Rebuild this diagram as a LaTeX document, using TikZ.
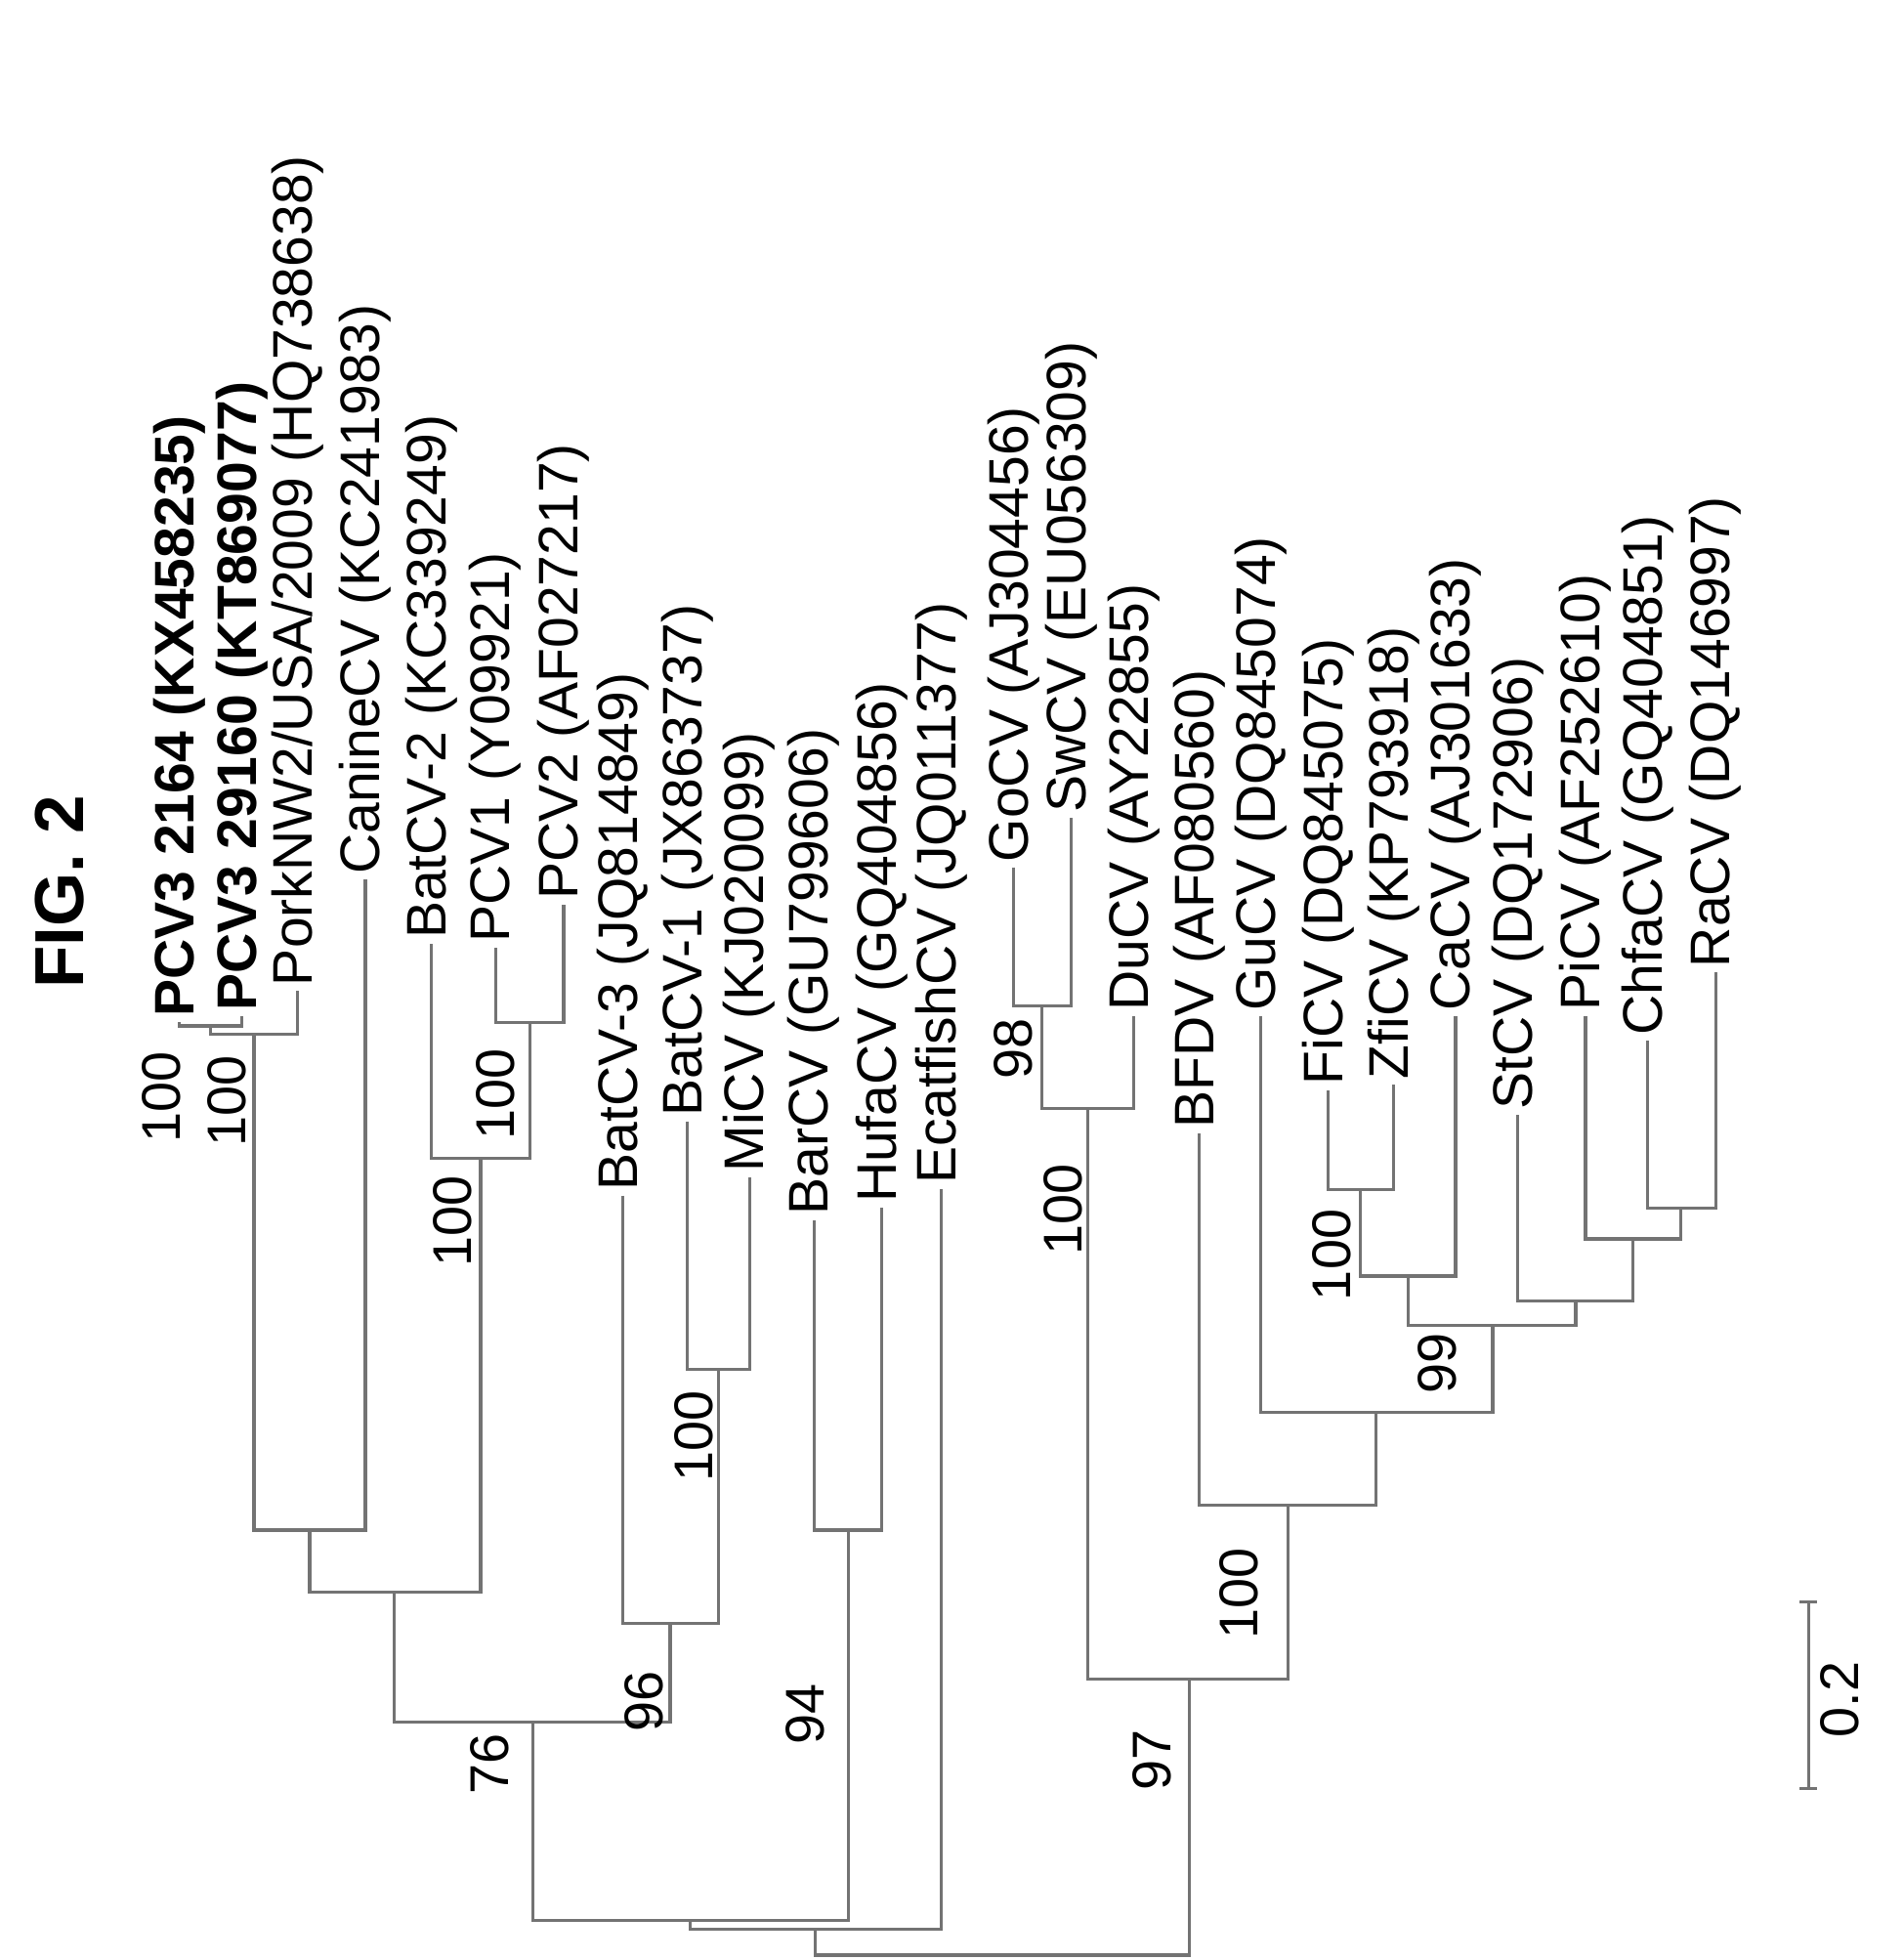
\documentclass[tikz,border=0pt]{standalone}
\usepackage{fontspec}
\setmainfont{Liberation Sans}
\tikzset{every picture/.style={line width=2.5pt}}
\tikzset{
  branch/.style={draw=black!55, line width=2.5pt},
  leaf/.style={rotate=90, anchor=west, inner sep=3pt, font=\fontsize{45}{52}\selectfont},
  boot/.style={rotate=90, anchor=east, inner sep=3pt, font=\fontsize{44}{50}\selectfont}}

\begin{document}
\begin{tikzpicture}[x=1pt,y=1pt,yscale=-1,xscale=1]
	\useasboundingbox (0,0) rectangle (1536,1582);

	% Title
	\node (title) [rotate=90, font=\bfseries\fontsize{56}{62}\selectfont] at (48,720) {FIG. 2};

	% Leaves
	\node (pcvA) [leaf] at (145,825) {\bfseries PCV3 2164 (KX458235)};
	\node (pcvB) [leaf] at (195,820) {\bfseries PCV3 29160 (KT869077)};
	\node (pork) [leaf] at (240,800) {PorkNW2/USA/2009 (HQ738638)};
	\node (canine) [leaf] at (295,710) {CanineCV (KC241983)};
	\node (batii) [leaf] at (348,762) {BatCV-2 (KC339249)};
	\node (pcvi) [leaf] at (400,765) {PCV1 (Y09921)};
	\node (pcvii) [leaf] at (455,730) {PCV2 (AF027217)};
	\node (batiii) [leaf] at (503,965) {BatCV-3 (JQ814849)};
	\node (bati) [leaf] at (555,905) {BatCV-1 (JX863737)};
	\node (mi) [leaf] at (605,950) {MiCV (KJ020099)};
	\node (bar) [leaf] at (657,985) {BarCV (GU799606)};
	\node (hufa) [leaf] at (712,975) {HufaCV (GQ404856)};
	\node (ecat) [leaf] at (760,960) {EcatfishCV (JQ011377)};
	\node (go) [leaf] at (818,700) {GoCV (AJ304456)};
	\node (sw) [leaf] at (865,660) {SwCV (EU056309)};
	\node (du) [leaf] at (915,820) {DuCV (AY22855)};
	\node (bfdv) [leaf] at (968,915) {BFDV (AF080560)};
	\node (gu) [leaf] at (1018,820) {GuCV (DQ845074)};
	\node (fi) [leaf] at (1072,880) {FiCV (DQ845075)};
	\node (zfi) [leaf] at (1125,875) {ZfiCV (KP793918)};
	\node (ca) [leaf] at (1175,820) {CaCV (AJ301633)};
	\node (st) [leaf] at (1225,900) {StCV (DQ172906)};
	\node (pi) [leaf] at (1280,820) {PiCV (AF252610)};
	\node (chfa) [leaf] at (1330,840) {ChfaCV (GQ404851)};
	\node (ra) [leaf] at (1385,785) {RaCV (DQ146997)};

	% Internal nodes
	\coordinate (nA) at (170,828);
	\coordinate (nB) at (205,835);
	\coordinate (nC) at (250,1235);
	\coordinate (nD) at (428,825);
	\coordinate (nE) at (388,935);
	\coordinate (nF) at (318,1285);
	\coordinate (nI) at (580,1105);
	\coordinate (nJ) at (541,1310);
	\coordinate (nH) at (430,1390);
	\coordinate (nL) at (685,1235);
	\coordinate (nK) at (557,1550);
	\coordinate (nM) at (658,1557);
	\coordinate (nP) at (841,812);
	\coordinate (nQ) at (878,895);
	\coordinate (nR) at (1098,960);
	\coordinate (nS) at (1137,1030);
	\coordinate (nT) at (1357,975);
	\coordinate (nU) at (1318,1000);
	\coordinate (nV) at (1272,1050);
	\coordinate (nN) at (1205,1070);
	\coordinate (nW) at (1111,1140);
	\coordinate (nX) at (1040,1215);
	\coordinate (nY) at (960,1355);
	\coordinate (root) at (809,1578);

	% Branches
	\draw [branch] (pcvA.west) |- (nA) -| (pcvB.west);
	\draw [branch] (nA) |- (nB) -| (pork.west);
	\draw [branch] (nB) |- (nC) -| (canine.west);
	\draw [branch] (pcvi.west) |- (nD) -| (pcvii.west);
	\draw [branch] (batii.west) |- (nE) -| (nD);
	\draw [branch] (nC) |- (nF) -| (nE);
	\draw [branch] (bati.west) |- (nI) -| (mi.west);
	\draw [branch] (batiii.west) |- (nJ) -| (nI);
	\draw [branch] (nF) |- (nH) -| (nJ);
	\draw [branch] (bar.west) |- (nL) -| (hufa.west);
	\draw [branch] (nH) |- (nK) -| (nL);
	\draw [branch] (nK) |- (nM) -| (ecat.west);
	\draw [branch] (go.west) |- (nP) -| (sw.west);
	\draw [branch] (nP) |- (nQ) -| (du.west);
	\draw [branch] (fi.west) |- (nR) -| (zfi.west);
	\draw [branch] (nR) |- (nS) -| (ca.west);
	\draw [branch] (chfa.west) |- (nT) -| (ra.west);
	\draw [branch] (pi.west) |- (nU) -| (nT);
	\draw [branch] (st.west) |- (nV) -| (nU);
	\draw [branch] (nS) |- (nN) -| (nV);
	\draw [branch] (gu.west) |- (nW) -| (nN);
	\draw [branch] (bfdv.west) |- (nX) -| (nW);
	\draw [branch] (nQ) |- (nY) -| (nX);
	\draw [branch] (nM) |- (root) -| (nY);

	% Bootstrap values
	\node (bA) [boot] at (130,845) {100};
	\node (bB) [boot] at (183,848) {100};
	\node (bD) [boot] at (400,842) {100};
	\node (bE) [boot] at (365,945) {100};
	\node (bI) [boot] at (560,1118) {100};
	\node (bJ) [boot] at (520,1345) {96};
	\node (bH) [boot] at (395,1395) {76};
	\node (bL) [boot] at (650,1355) {94};
	\node (bP) [boot] at (818,818) {98};
	\node (bQ) [boot] at (858,935) {100};
	\node (bR) [boot] at (1075,972) {100};
	\node (bN) [boot] at (1160,1072) {99};
	\node (bX) [boot] at (1000,1245) {100};
	\node (bY) [boot] at (930,1392) {97};

	% Scale bar
	\coordinate (sTop) at (1460,1292);
	\coordinate (sBot) at (1460,1445);
	\draw [branch, |-|] (sTop) -- (sBot);
	\node (scale) [rotate=90, font=\fontsize{44}{50}\selectfont] at (1485,1372) {0.2};
\end{tikzpicture}
\end{document}
